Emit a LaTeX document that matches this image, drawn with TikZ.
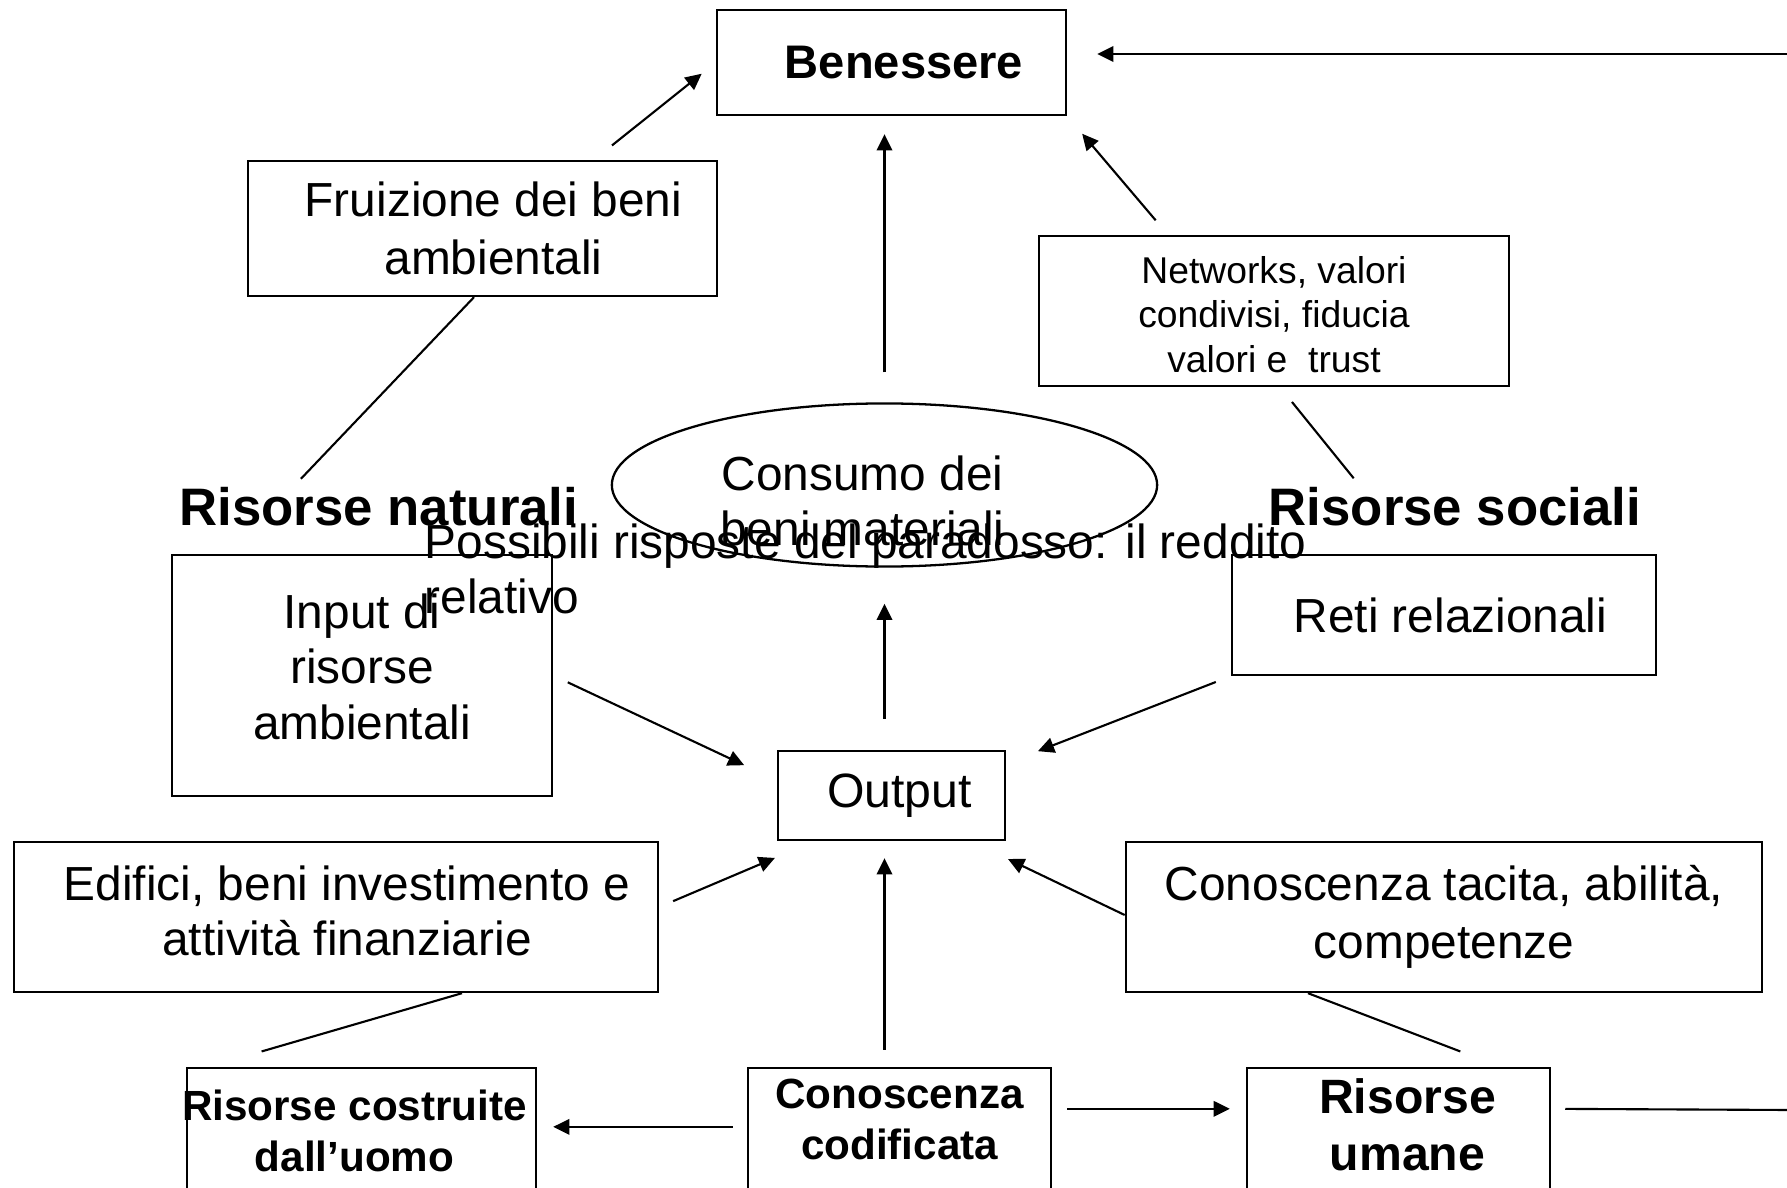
\documentclass[tikz,border=0pt]{standalone}
\usepackage{fontspec}
\setmainfont{Liberation Sans}
\usepackage{xcolor}
\usepackage{tikz}
\usetikzlibrary{calc,arrows.meta,shapes.geometric}
\definecolor{ink}{HTML}{000000}
\definecolor{paper}{HTML}{FFFFFF}
\tikzset{
  box/.style={draw=ink, line width=0.65pt, rectangle, inner sep=0pt, align=center, font=\fontsize{13.6pt}{16.3pt}\selectfont},
  oval/.style={draw=ink, line width=0.65pt, ellipse, inner sep=0pt},
  arr/.style={draw=ink, line width=0.6pt, -{Triangle[length=4.6pt,width=4.4pt]}},
  link/.style={draw=ink, line width=0.6pt},
  lab/.style={text=ink, inner sep=0pt, font=\fontsize{15pt}{18pt}\selectfont\bfseries},
  txt/.style={text=ink, inner sep=0pt, align=left, font=\fontsize{13.6pt}{15.6pt}\selectfont},
  inl/.style={text=ink, inner sep=0pt, align=center, font=\fontsize{13.6pt}{15.8pt}\selectfont},
  fine/.style={font=\fontsize{10.6pt}{12.7pt}\selectfont},
  hd/.style={font=\fontsize{12pt}{14.5pt}\selectfont\bfseries},
}

\begin{document}
\begin{tikzpicture}[x=0.01cm, y=-0.01cm]
  \path[use as bounding box, fill=paper] (0,0) rectangle (1787,1188);
  \clip (0,0) rectangle (1787,1188);
  \coordinate (edgeT) at (1790,54);
  \coordinate (edgeB) at (1790,1110);
  \node[box, minimum width=3.49cm, minimum height=1.05cm, font=\fontsize{13.4pt}{16pt}\selectfont\bfseries] (ben) at (891.5,62.5) {\hspace*{0.25cm}Benessere};
  \node[box, minimum width=4.69cm, minimum height=1.35cm] (fru) at (482.5,228.5) {\hspace*{0.22cm}Fruizione dei beni\\\hspace*{0.22cm}ambientali};
  \node[box, minimum width=4.70cm, minimum height=1.50cm, label={[inl, fine, yshift=-0.035cm]center:{Networks, valori\\condivisi, fiducia\\valori e\ \ trust}}] (net) at (1274,311) {};
  \node[oval, minimum width=5.45cm, minimum height=1.63cm, label={[inl, xshift=-0.22cm, yshift=-0.16cm]center:{Consumo dei\\beni materiali}}] (ell) at (884.5,485) {};
  \node[lab, anchor=base] (rn) at (379,525) {Risorse naturali};
  \node[lab, anchor=base] (rs) at (1455,525) {Risorse sociali};
  \node[box, minimum width=3.80cm, minimum height=2.41cm, label={[inl, yshift=0.09cm]center:{Input di\\risorse\\ambientali}}] (inp) at (362,675.5) {};
  \node[box, minimum width=4.24cm, minimum height=1.20cm] (reti) at (1444,615) {\hspace*{0.13cm}Reti relazionali};
  \node[txt, anchor=north west] (par) at (424,523) {Possibili risposte del paradosso: il reddito\\relativo};
  \node[box, minimum width=2.27cm, minimum height=0.89cm, font=\fontsize{13.7pt}{16.3pt}\selectfont] (out) at (891.5,795.5) {\hspace*{0.16cm}Output};
  \node[box, minimum width=6.44cm, minimum height=1.50cm, label={[inl, xshift=0.11cm, yshift=0.06cm]center:{Edifici, beni investimento e\\attività finanziarie}}] (edi) at (336,917) {};
  \node[box, minimum width=6.36cm, minimum height=1.50cm] (tac) at (1444,917) {Conoscenza tacita, abilità,\\competenze};
  \node[box, minimum width=3.49cm, minimum height=1.32cm, label={[inl, hd, xshift=-0.07cm, yshift=0.03cm]center:{Risorse costruite\\dall’uomo}}] (rc) at (361.5,1134) {};
  \node[box, minimum width=3.03cm, minimum height=1.32cm, label={[inl, hd, yshift=0.15cm]center:{Conoscenza\\codificata}}] (cod) at (899.5,1134) {};
  \node[box, minimum width=3.03cm, minimum height=1.32cm, label={[inl, xshift=0.09cm, yshift=0.09cm, font=\fontsize{13.7pt}{16.2pt}\selectfont\bfseries]center:{Risorse\\umane}}] (ru) at (1398.5,1134) {};
  \draw[arr, shorten <=0.23cm, shorten >=0.18cm] ($(fru.north)+(111.5,0)$) -- (ben.west);
  \draw[arr, shorten <=0.30cm, shorten >=0.18cm] (ell.north) -- (ell.north |- ben.south);
  \draw[arr, shorten <=0.19cm, shorten >=0.23cm] ($(net.north)+(-106,0)$) -- (ben.south east);
  \draw[arr, shorten >=0.30cm] (edgeT) -- (ben.east |- edgeT);
  \draw[link, shorten >=0.10cm] ($(fru.south)+(-8.5,0)$) -- ($(rn.north)+(-85,0)$);
  \draw[link, shorten <=0.19cm, shorten >=0.10cm] ($(net.south)+(6,0)$) -- ($(rs.north)+(-95,0)$);
  \draw[arr, shorten <=0.31cm, shorten >=0.36cm] (ell.south |- out.north) -- (ell.south);
  \draw[arr, shorten <=0.16cm, shorten >=0.36cm] (inp.east) -- ($(out.west)+(0,-15)$);
  \draw[arr, shorten <=0.16cm, shorten >=0.34cm] (reti.south west) -- ($(out.east)+(0,-32)$);
  \draw[arr, shorten <=0.15cm, shorten >=0.02cm] ($(edi.east)+(0,-10)$) -- ($(out.south west)+(0,16)$);
  \draw[arr, shorten >=0.02cm] ($(tac.west)+(0,-2)$) -- ($(out.south east)+(0,17)$);
  \draw[arr, shorten <=0.17cm, shorten >=0.17cm] (ell.south |- cod.north) -- (ell.south |- out.south);
  \draw[link, shorten >=0.55cm] ($(edi.south)+(126,0)$) -- ($(rc.north west)+(23,0)$);
  \draw[link, shorten >=0.43cm] ($(tac.south)+(-136,0)$) -- ($(ru.north)+(102,0)$);
  \draw[arr, shorten <=0.14cm, shorten >=0.16cm] ($(cod.north west)+(0,60)$) -- ($(rc.north east)+(0,60)$);
  \draw[arr, shorten <=0.15cm, shorten >=0.16cm] ($(cod.north east)+(0,42)$) -- ($(ru.north west)+(0,42)$);
  \draw[link, shorten <=0.14cm] ($(ru.north east)+(0,42)$) -- (edgeB);
\end{tikzpicture}
\end{document}
